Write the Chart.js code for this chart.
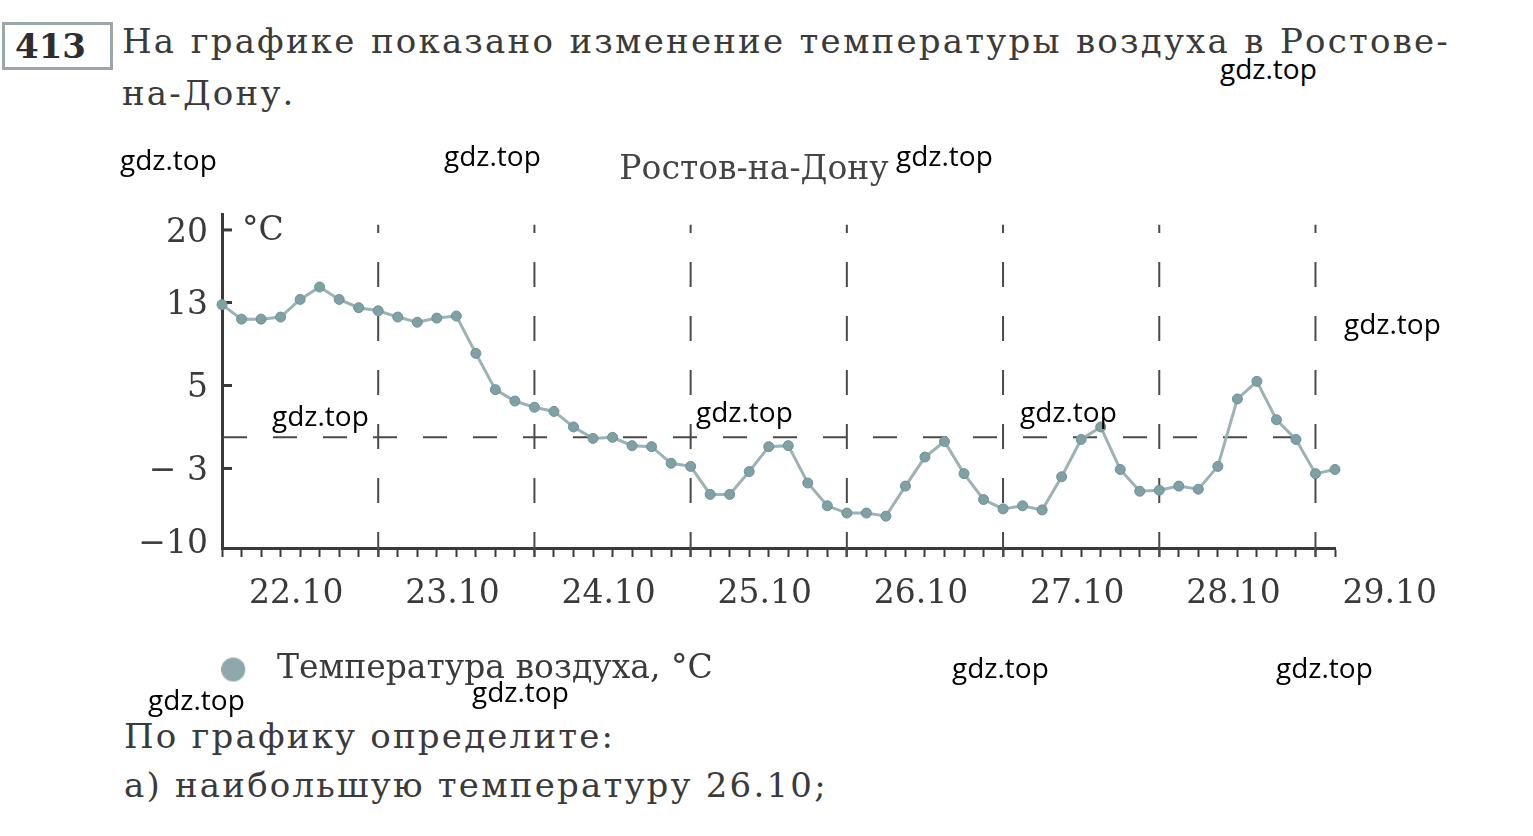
<!DOCTYPE html>
<html lang="ru">
<head>
<meta charset="utf-8">
<title>Ростов-на-Дону</title>
<script src="https://cdn.jsdelivr.net/npm/chart.js@4/dist/chart.umd.min.js"></script>
<style>
  html, body { margin: 0; padding: 0; background: #fff; }
  body { width: 1533px; height: 836px; position: relative; overflow: hidden;
         font-family: "DejaVu Serif", serif; color: #3a3a3a; }
  .line { position: absolute; font-size: 34px; line-height: 34px; letter-spacing: 2.2px; white-space: pre; }
  .num { position: absolute; left: 2px; top: 22px; width: 95px; height: 42px;
         border: 3px solid #9aa8ac; font-weight: bold; font-size: 34px; line-height: 42px;
         padding-left: 10px; box-sizing: content-box; color: #2e2e2e; }
  #chart { position: absolute; left: 0; top: 130px; }
  .wm { position: absolute; font-family: "Open Sans", sans-serif; font-size: 28px; line-height: 28px;
        color: #000; z-index: 5; white-space: nowrap; }
</style>
</head>
<body>
<div class="num">413</div>
<div class="line" style="left:122px; top:24px; width:1328px; white-space:normal; text-align:justify; text-align-last:justify;">На графике показано изменение температуры воздуха в Ростове-</div>
<div class="line" style="left:122px; top:76px;">на-Дону.</div>

<canvas id="chart" width="1533" height="570"></canvas>

<div class="line" style="left:124px; top:719px;">По графику определите:</div>
<div class="line" style="left:124px; top:768px;">а) наибольшую температуру 26.10;</div>

<div class="wm" style="left:1220px; top:54px;">gdz.top</div>
<div class="wm" style="left:120px; top:145px;">gdz.top</div>
<div class="wm" style="left:444px; top:141px;">gdz.top</div>
<div class="wm" style="left:896px; top:141px;">gdz.top</div>
<div class="wm" style="left:1344px; top:309px;">gdz.top</div>
<div class="wm" style="left:272px; top:401px;">gdz.top</div>
<div class="wm" style="left:696px; top:397px;">gdz.top</div>
<div class="wm" style="left:1020px; top:397px;">gdz.top</div>
<div class="wm" style="left:952px; top:653px;">gdz.top</div>
<div class="wm" style="left:1276px; top:653px;">gdz.top</div>
<div class="wm" style="left:148px; top:685px;">gdz.top</div>
<div class="wm" style="left:472px; top:677px;">gdz.top</div>

<script>
// days shown under the axis (label sits in the middle of each day)
const dates = ["22.10", "23.10", "24.10", "25.10", "26.10", "27.10", "28.10", "29.10"];
const readingsPerDay = 8; // every 3 hours

// air temperature, °C, read every 3 hours starting 22.10 00:00
const temps = [
  12.8, 11.4, 11.4, 11.6, 13.3, 14.5, 13.3, 12.5,
  12.2, 11.6, 11.1, 11.5, 11.7, 8.1, 4.6, 3.5,
  2.9, 2.5, 1.0, -0.1, 0.0, -0.8, -0.9, -2.5,
  -2.8, -5.5, -5.5, -3.3, -0.9, -0.8, -4.4, -6.6,
  -7.3, -7.3, -7.6, -4.7, -1.9, -0.4, -3.5, -6.0,
  -6.9, -6.6, -7.0, -3.8, -0.2, 1.0, -3.1, -5.2,
  -5.1, -4.7, -5.0, -2.8, 3.7, 5.4, 1.7, -0.2,
  -3.5, -3.1
];

const yTicks = [20, 13, 5, -3, -10];
const yTickText = { "20": "20", "13": "13", "5": "5", "-3": "− 3", "-10": "−10" };

const ink = "#3a3a3a";
const serif = "DejaVu Serif";

const points = temps.map((t, i) => ({ x: i, y: t }));

// legend marker: a round dot sitting left inside a slightly wider image
const legendDot = document.createElement("canvas");
legendDot.width = 32;
legendDot.height = 26;
(() => {
  const c = legendDot.getContext("2d");
  c.fillStyle = "#8ea8ac";
  c.beginPath();
  c.arc(12, 13, 12, 0, Math.PI * 2);
  c.fill();
})();

// dashed guides, inner y ticks, day labels and the unit
const decorations = {
  id: "decorations",
  afterLayout(chart) {
    // centre the title over the plot like in the book
    chart.titleBlock.left = 173;
    chart.titleBlock.right = chart.chartArea.right;
  },
  beforeDatasetsDraw(chart) {
    const { ctx, chartArea: a, scales: { x, y } } = chart;
    ctx.save();
    ctx.strokeStyle = "#4a4a4a";
    ctx.lineWidth = 2;

    // day boundaries
    ctx.setLineDash([25, 29]);
    for (let d = 1; d < dates.length; d++) {
      const px = x.getPixelForValue(d * readingsPerDay);
      ctx.beginPath();
      ctx.moveTo(px, a.bottom + 9);
      ctx.lineTo(px, y.getPixelForValue(20.5));
      ctx.stroke();
    }

    // zero line
    ctx.setLineDash([24, 26]);
    const y0 = y.getPixelForValue(0);
    ctx.beginPath();
    ctx.moveTo(a.left + 1, y0);
    ctx.lineTo(x.getPixelForValue((dates.length - 1) * readingsPerDay), y0);
    ctx.stroke();

    // short ticks on the inside of the y axis
    ctx.setLineDash([]);
    ctx.strokeStyle = ink;
    ctx.lineWidth = 3;
    yTicks.slice(0, -1).forEach(v => {
      const py = y.getPixelForValue(v);
      ctx.beginPath();
      ctx.moveTo(a.left, py);
      ctx.lineTo(a.left + 10, py);
      ctx.stroke();
    });

    // unit
    ctx.fillStyle = ink;
    ctx.font = "33px " + serif;
    ctx.textAlign = "left";
    ctx.textBaseline = "alphabetic";
    ctx.fillText("°C", a.left + 20, y.getPixelForValue(20) + 10);

    // day labels
    ctx.textAlign = "center";
    dates.forEach((d, k) => {
      const px = x.getPixelForValue(k * readingsPerDay + readingsPerDay / 2 - 0.2);
      ctx.fillText(d, px, a.bottom + 55);
    });
    ctx.restore();
  }
};

new Chart(document.getElementById("chart"), {
  type: "line",
  data: {
    datasets: [{
      label: "Температура воздуха, °C",
      data: points,
      borderColor: "#9cb2b3",
      borderWidth: 3,
      pointRadius: 5,
      pointBackgroundColor: "#7fa0a4",
      pointBorderColor: "#6f9196",
      pointBorderWidth: 1,
      tension: 0,
      clip: false
    }]
  },
  options: {
    responsive: false,
    devicePixelRatio: 1,
    animation: false,
    layout: { padding: { left: 140, right: 198, top: 10, bottom: 4 } },
    scales: {
      x: {
        type: "linear",
        min: 0,
        max: temps.length - 1,
        afterBuildTicks: s => { s.ticks = temps.map((_, i) => ({ value: i })); },
        afterFit: s => { s.height = 31; },
        ticks: { autoSkip: false, callback: () => "", padding: 0 },
        grid: { display: true, drawOnChartArea: false, drawTicks: true,
                tickLength: 9, tickWidth: 2, tickColor: ink },
        border: { display: true, color: ink, width: 3 }
      },
      y: {
        min: -10.67,
        max: 21.48,
        afterBuildTicks: s => { s.ticks = yTicks.map(v => ({ value: v })); },
        afterFit: s => { s.width = 82; },
        ticks: {
          padding: 14,
          labelOffset: 3,
          color: ink,
          font: { family: serif, size: 33 },
          callback: v => yTickText[String(v)]
        },
        grid: { display: false, drawTicks: false },
        border: { display: true, color: ink, width: 3 }
      }
    },
    plugins: {
      title: {
        display: true,
        text: "Ростов-на-Дону",
        color: "#444",
        font: { family: serif, size: 33, weight: "normal" },
        padding: { top: 11, bottom: 24 }
      },
      legend: {
        position: "bottom",
        align: "start",
        labels: {
          padding: 74,
          usePointStyle: true,
          pointStyleWidth: 46.5,
          boxHeight: 17,
          color: ink,
          font: { family: serif, size: 33 },
          generateLabels: chart => [{
            text: chart.data.datasets[0].label,
            fillStyle: "#8ea8ac",
            strokeStyle: "#8ea8ac",
            lineWidth: 0,
            pointStyle: legendDot,
            hidden: false,
            datasetIndex: 0,
            fontColor: ink
          }]
        }
      },
      tooltip: { enabled: false }
    }
  },
  plugins: [decorations]
});
</script>
</body>
</html>
